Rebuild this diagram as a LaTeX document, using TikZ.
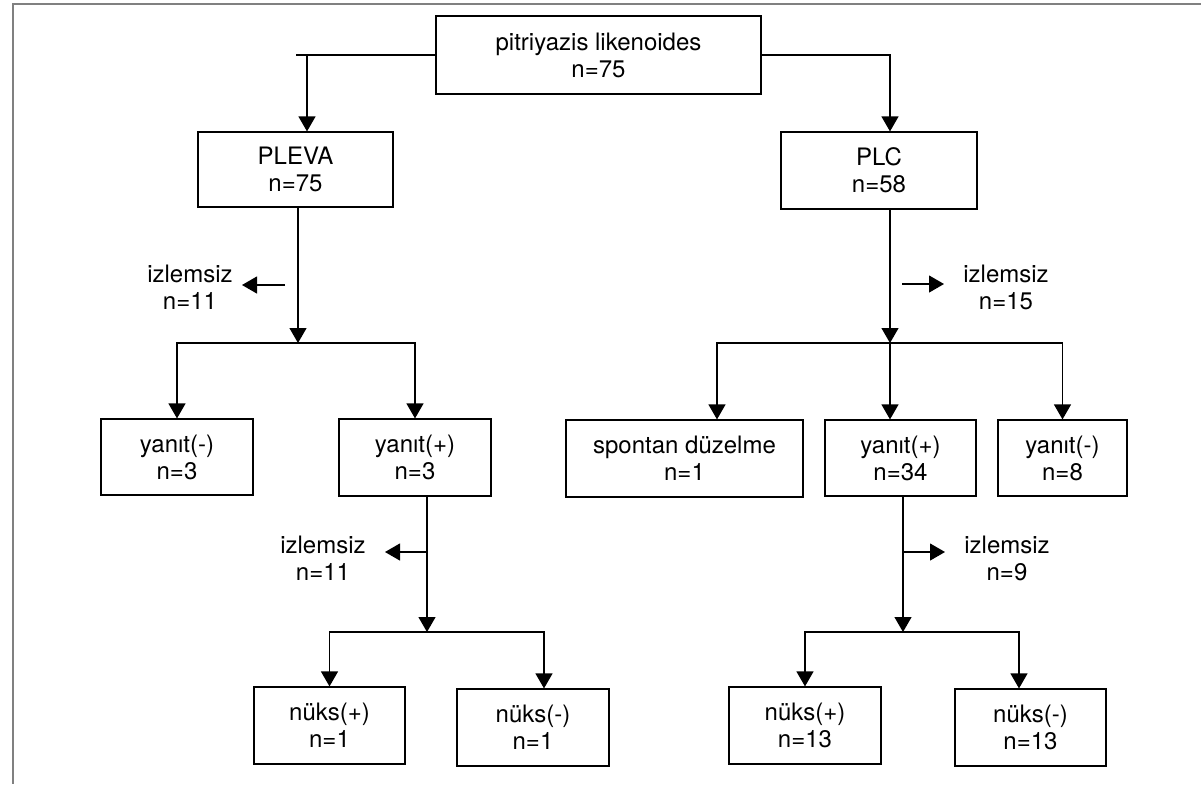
\documentclass[tikz,border=0pt]{standalone}
\usepackage{fontspec}
\setmainfont{TeX Gyre Heros}
\usetikzlibrary{arrows.meta,calc}

\begin{document}
\begin{tikzpicture}[x=0.5pt,y=-0.5pt,>={Triangle[length=7.5pt,width=8.5pt]},
  line width=0.6pt,
  box/.style={draw,align=center,inner sep=0pt,minimum width=76pt,minimum height=38.5pt,
    font=\fontsize{12}{13.5}\selectfont},
  lbl/.style={align=center,inner sep=0pt,font=\fontsize{12}{13.5}\selectfont}]
  \useasboundingbox (0,0) rectangle (1201,784);
  \draw[black!50,line width=0.8pt] (1201,4) -- (12.7,4) -- (12.7,784);

  % boxes
  \node[box,minimum width=162.5pt,minimum height=39pt] (pit) at (598.5,55) {pitriyazis likenoides\\n=75};
  \node[box,minimum width=97.5pt,minimum height=37.5pt] (pleva) at (295.5,169.5) {PLEVA\\n=75};
  \node[box,minimum width=98pt] (plc) at (879,170.5) {PLC\\n=58};
  \node[box,minimum height=38pt] (yneg1) at (177,457) {yanıt(-)\\n=3};
  \node[box] (ypos1) at (415,457.5) {yanıt(+)\\n=3};
  \node[box,minimum width=118.5pt] (spon) at (684.5,458.5) {spontan düzelme\\n=1};
  \node[box,minimum width=75.5pt,minimum height=38pt] (ypos2) at (900.5,458) {yanıt(+)\\n=34};
  \node[box,minimum width=64.5pt,minimum height=38pt] (yneg2) at (1062.5,458) {yanıt(-)\\n=8};
  \node[box,minimum width=75.5pt] (nukp1) at (329.5,725.5) {nüks(+)\\n=1};
  \node[box] (nukn1) at (533,727.5) {nüks(-)\\n=1};
  \node[box] (nukp2) at (805,725.5) {nüks(+)\\n=13};
  \node[box,minimum width=75.5pt] (nukn2) at (1030.5,727.5) {nüks(-)\\n=13};

  % izlemsiz labels
  \node[lbl] (izl1) at (190,287) {izlemsiz\\n=11};
  \node[lbl] (izr1) at (1006,287) {izlemsiz\\n=15};
  \node[lbl] (izl2) at (323,558) {izlemsiz\\n=11};
  \node[lbl] (izr2) at (1007,558) {izlemsiz\\n=9};

  % top split
  \coordinate (jls) at (296,55);
  \coordinate (jl) at (307,55);
  \coordinate (jr) at (890,55);
  \draw (pit.west) -- (jls);
  \draw[->] (jl) -- (jl |- pleva.north);
  \draw[->] (pit.east) -- (jr) -- (jr |- plc.north);

  % PLEVA branch
  \coordinate (sl) at (298,343);
  \coordinate (al1) at (285,285);
  \coordinate (al2) at (242,285);
  \draw[->] (pleva.south -| sl) -- (sl);
  \draw[->] (al1) -- (al2);
  \draw[->] (sl) -| (yneg1.north);
  \draw[->] (sl) -| (ypos1.north);

  % PLC branch
  \coordinate (sr) at (890,343);
  \coordinate (ar1) at (902,284);
  \coordinate (ar2) at (944,284);
  \draw[->] (jr |- plc.south) -- (sr);
  \draw[->] (ar1) -- (ar2);
  \draw[->] (sr) -| ([xshift=16.25pt]spon.north);
  \draw[->] (sr) -- (sr |- ypos2.north);
  \draw[->] (sr) -| (yneg2.north);

  % yanit(+) n=3
  \coordinate (bl) at (427,632);
  \coordinate (bla) at (427,552);
  \coordinate (blb) at (385,552);
  \draw[->] (bl |- ypos1.south) -- (bl);
  \draw[->] (bla) -- (blb);
  \draw[->] (bl) -| (nukp1.north);
  \draw[->] (bl) -| ([xshift=5.5pt]nukn1.north);

  % yanit(+) n=34
  \coordinate (br) at (903,632);
  \coordinate (bra) at (903,552);
  \coordinate (brb) at (945,552);
  \draw[->] (br |- ypos2.south) -- (br);
  \draw[->] (bra) -- (brb);
  \draw[->] (br) -| (nukp2.north);
  \draw[->] (br) -| ([xshift=-5.75pt]nukn2.north);
\end{tikzpicture}
\end{document}
